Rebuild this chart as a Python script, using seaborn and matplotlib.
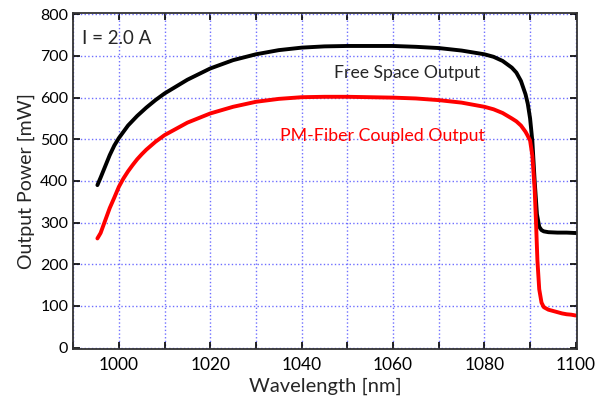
import numpy as np
import pandas as pd
import matplotlib
matplotlib.use("Agg")
import matplotlib.pyplot as plt
import seaborn as sns
from matplotlib.ticker import MultipleLocator

# Free space output (black)
wl_fs = [995.3, 996, 997, 998, 999, 1000, 1002, 1004, 1006, 1008, 1010, 1015, 1020, 1025,
         1030, 1035, 1040, 1045, 1050, 1055, 1060, 1065, 1070, 1075, 1080, 1082, 1084,
         1086, 1087, 1088, 1089, 1089.5, 1090, 1090.5, 1091, 1091.5, 1092, 1092.5, 1093,
         1094, 1096, 1098, 1100]
p_fs = [390, 408, 435, 462, 485, 503, 533, 556, 576, 594, 610, 643, 670, 690,
        704, 714, 720, 723, 724, 724, 724, 722, 719, 713, 704, 698, 688,
        672, 660, 640, 608, 585, 550, 495, 400, 320, 290, 282, 279,
        277, 276, 276, 275]

# PM-fiber coupled output (red)
wl_pm = [995.3, 996, 997, 998, 999, 1000, 1001, 1002, 1003, 1004, 1005, 1006, 1008, 1010,
         1015, 1020, 1025, 1030, 1035, 1040, 1045, 1050, 1055, 1060, 1065, 1070, 1075,
         1080, 1082, 1084, 1086, 1087, 1088, 1089, 1089.5, 1090, 1090.5, 1091, 1091.3,
         1091.6, 1092, 1092.5, 1093, 1094, 1095, 1096, 1097, 1098, 1099, 1100]
p_pm = [262, 275, 305, 335, 360, 386, 406, 423, 438, 452, 464, 475, 494, 510,
        540, 562, 578, 590, 597, 601, 602, 602, 601, 600, 598, 594, 588,
        578, 572, 563, 550, 543, 533, 518, 508, 497, 460, 380, 300,
        210, 140, 108, 97, 91, 88, 85, 82, 80, 79, 77]

df_fs = pd.DataFrame({"wl": wl_fs, "p": p_fs})
df_pm = pd.DataFrame({"wl": wl_pm, "p": p_pm})

sns.set_style("ticks")
plt.rcParams['font.family'] = ['Lato', 'DejaVu Sans']

fig = plt.figure(figsize=(5.95, 4.08), dpi=100)
ax = fig.add_axes([0.123, 0.145, 0.847, 0.823])

sns.lineplot(data=df_fs, x="wl", y="p", color="black", linewidth=2.8, ax=ax)
sns.lineplot(data=df_pm, x="wl", y="p", color="#ff0000", linewidth=2.8, ax=ax)

ax.set_xlim(990, 1100.3)
ax.set_ylim(-3, 803)
ax.xaxis.set_major_locator(MultipleLocator(20))
ax.xaxis.set_minor_locator(MultipleLocator(10))
ax.yaxis.set_major_locator(MultipleLocator(100))
ax.grid(True, which="both", axis="x", color="#6f6fff", linestyle=":", linewidth=1)
ax.grid(True, which="major", axis="y", color="#6f6fff", linestyle=":", linewidth=1)
ax.set_axisbelow(True)
ax.tick_params(which="both", direction="in", top=True, right=True, length=5, width=1.2,
               colors="black")
ax.tick_params(axis="x", labelsize=12.5, pad=6)
ax.tick_params(axis="y", labelsize=11.5)
for s in ax.spines.values():
    s.set_linewidth(1.3)
    s.set_color("#333333")

ax.set_xlabel("Wavelength [nm]", fontsize=14.5, labelpad=3)
ax.set_ylabel("Output Power [mW]", fontsize=14, labelpad=4)

ax.text(992, 742, "I = 2.0 A", fontsize=13.5, va="center", ha="left")
ax.text(1047, 659, "Free Space Output", fontsize=12.7, va="center", ha="left")
ax.text(1035.2, 508, "PM-Fiber Coupled Output", fontsize=12.8, va="center", ha="left",
        color="#ff0000")

fig.savefig("out.png", dpi=100)
